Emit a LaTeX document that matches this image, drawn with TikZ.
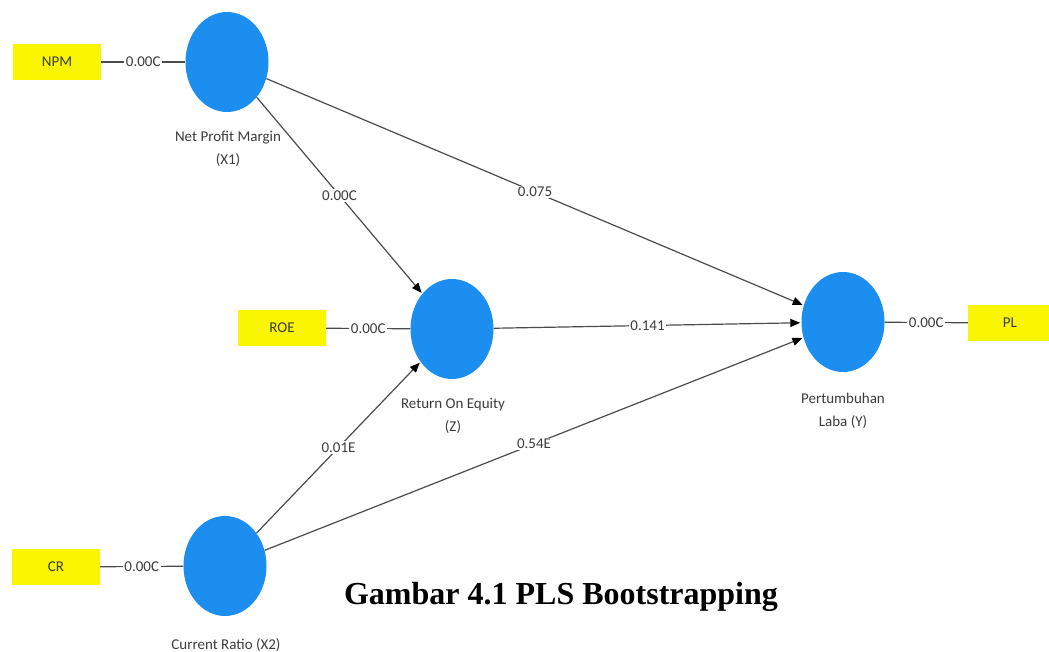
\documentclass[tikz,border=0pt]{standalone}
\usepackage{fontspec}
\setmainfont{Liberation Serif}
\newfontfamily\uifont{Carlito}
\usetikzlibrary{shapes.geometric,arrows.meta}
\definecolor{lvblue}{RGB}{28,142,240}
\definecolor{indyellow}{RGB}{250,245,0}
\definecolor{linegray}{RGB}{75,75,75}
\definecolor{txtgray}{RGB}{60,60,60}
\begin{document}
\begin{tikzpicture}[x=1pt,y=-1pt,
  latent/.style={ellipse, fill=lvblue, draw=none, minimum width=83pt, minimum height=100pt, inner sep=0pt},
  indicator/.style={rectangle, fill=indyellow, draw=none, minimum width=88pt, minimum height=36pt, inner sep=0pt, font=\uifont\fontsize{15}{17}\selectfont, text=txtgray},
  lvlabel/.style={align=center, font=\uifont\fontsize{15}{23}\selectfont, text=txtgray, inner sep=0pt},
  val/.style={fill=white, inner sep=1.5pt, font=\uifont\fontsize{15}{17}\selectfont, text=txtgray, pos=0.5},
  outerline/.style={draw=linegray, line width=1.2pt},
  pathline/.style={draw=linegray, line width=1.2pt, -{Triangle[length=10pt,width=8pt,color=black]}, shorten >=1pt}
]
\useasboundingbox (0,0) rectangle (1049,652);

% latent variables
\node[latent] (x1) at (227,62) {};
\node[latent] (z) at (452,329) {};
\node[latent] (y) at (843,322) {};
\node[latent] (x2) at (225,566) {};

% indicators
\node[indicator] (npm) at (57,62) {NPM};
\node[indicator] (roe) at (282,328) {ROE};
\node[indicator, minimum width=84pt] (pl) at (1010,323) {PL};
\node[indicator] (cr) at (56,567) {CR};

% latent labels
\node[lvlabel] (lx1) at (228,149) {Net Profit Margin\\(X1)};
\node[lvlabel] (lz) at (453,416) {Return On Equity\\(Z)};
\node[lvlabel] (ly) at (843,411) {Pertumbuhan\\Laba (Y)};
\node[lvlabel] (lx2) at (226,645) {Current Ratio (X2)};

% outer model
\draw[outerline] (npm) -- node[val] {0.00C} (x1);
\draw[outerline] (roe) -- node[val] {0.00C} (z);
\draw[outerline] (y) -- node[val] {0.00C} (pl);
\draw[outerline] (cr) -- node[val] {0.00C} (x2);

% inner model
\draw[pathline] (x1) -- node[val] {0.00C} (z);
\draw[pathline] (x1) -- node[val] {0.075} (y);
\draw[pathline] (z) -- node[val] {0.141} (y);
\draw[pathline] (x2) -- node[val] {0.01E} (z);
\draw[pathline] (x2) -- node[val] {0.54E} (y);

% caption
\node[anchor=base, font=\bfseries\fontsize{32}{38}\selectfont, inner sep=0pt] (cap) at (561,604) {Gambar 4.1 PLS Bootstrapping};
\end{tikzpicture}
\end{document}
